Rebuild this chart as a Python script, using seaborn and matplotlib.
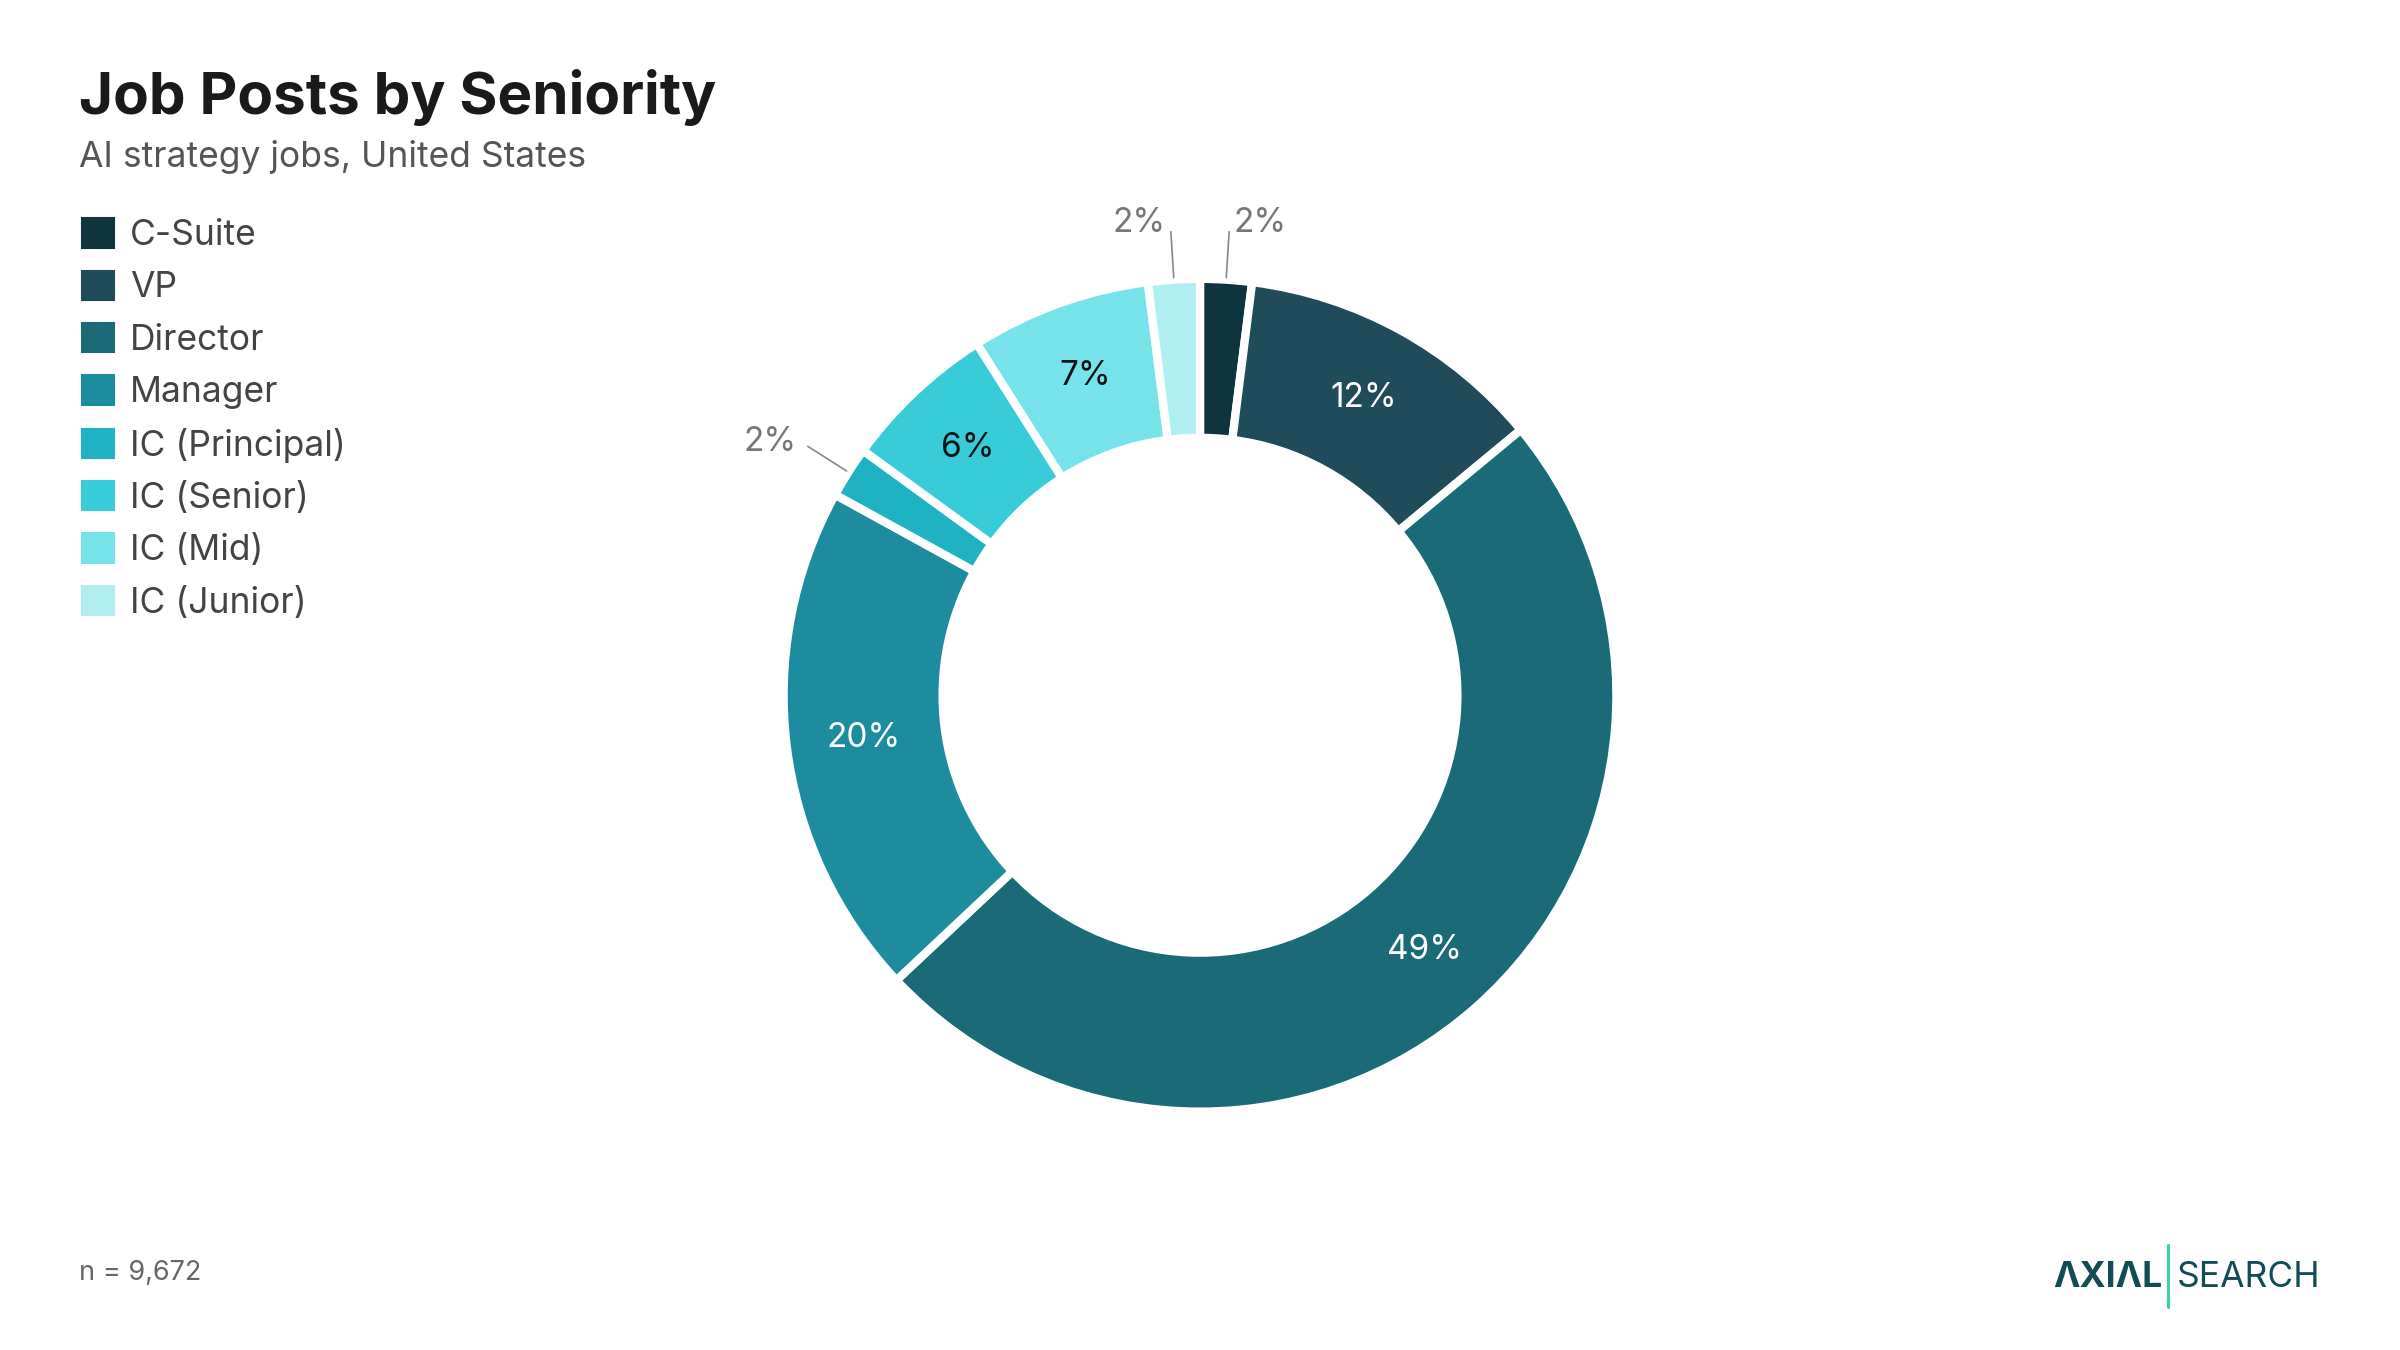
import numpy as np
import seaborn as sns
import matplotlib.pyplot as plt

categories = ['C-Suite', 'VP', 'Director', 'Manager', 'IC (Principal)', 'IC (Senior)', 'IC (Mid)', 'IC (Junior)']
shares = [2, 12, 49, 20, 2, 6, 7, 2]
colors = ['#0e3440', '#1f4b5b', '#1b6a77', '#1d8c9e', '#1fb2c3', '#38cbd8', '#76e2e9', '#b0eef2']
label_colors = ['white', 'white', 'white', 'white', 'white', '#111111', '#111111', 'white']
outside = [True, False, False, False, True, False, False, True]

sns.set_theme(style='white')
plt.rcParams['font.family'] = ['Inter', 'DejaVu Sans']

fig = plt.figure(figsize=(16, 9), dpi=150)
fig.patch.set_facecolor('white')
ax = fig.add_axes([0.500 - 0.1746, 0.485 - 0.31, 0.3492, 0.62])
wedges, _ = ax.pie(shares, colors=colors, startangle=90, counterclock=False, radius=0.995,
                   wedgeprops=dict(width=0.38, edgecolor='white', linewidth=4))
ax.set_xlim(-1, 1)
ax.set_ylim(-1, 1)
ax.set_aspect('equal')
ax.axis('off')

for w, s, c, out in zip(wedges, shares, label_colors, outside):
    ang = np.deg2rad((w.theta1 + w.theta2) / 2)
    dx, dy = np.cos(ang), np.sin(ang)
    if out:
        ax.plot([1.0 * dx, 1.11 * dx], [1.0 * dy, 1.11 * dy], color='#888888', lw=0.8, clip_on=False)
        ha = 'left' if dx > 0.01 else 'right'
        ax.text(1.13 * dx + (0.01 if dx > 0 else -0.01), 1.13 * dy, f'{s}%', ha=ha, va='center',
                fontsize=16, color='#777777')
    else:
        ax.text(0.81 * dx, 0.81 * dy, f'{s}%', ha='center', va='center', fontsize=16, color=c)

fig.text(0.033, 0.928, 'Job Posts by Seniority', fontsize=28, fontweight='bold', color='#1a1a1a', va='center')
fig.text(0.033, 0.884, 'AI strategy jobs, United States', fontsize=17, color='#555555', va='center')

handles = [plt.Rectangle((0, 0), 1, 1, color=c) for c in colors]
leg = fig.legend(handles, categories, loc='upper left', bbox_to_anchor=(0.021, 0.862), frameon=False,
                 fontsize=17, handlelength=0.9, handleheight=0.9, handletextpad=0.45, labelspacing=0.52)
for t in leg.get_texts():
    t.set_color('#444444')

fig.text(0.033, 0.057, 'n = 9,672', fontsize=13, color='#666666', va='center')
fig.text(0.901, 0.054, 'ΛXIΛL', fontsize=17, fontweight='bold', color='#124d55', ha='right', va='center')
fig.add_artist(plt.Line2D([0.9035, 0.9035], [0.032, 0.078], color='#3ad39c', lw=1.5))
fig.text(0.907, 0.054, 'SEARCH', fontsize=17, color='#124d55', ha='left', va='center')

fig.savefig('out.png', dpi=150, facecolor='white')
